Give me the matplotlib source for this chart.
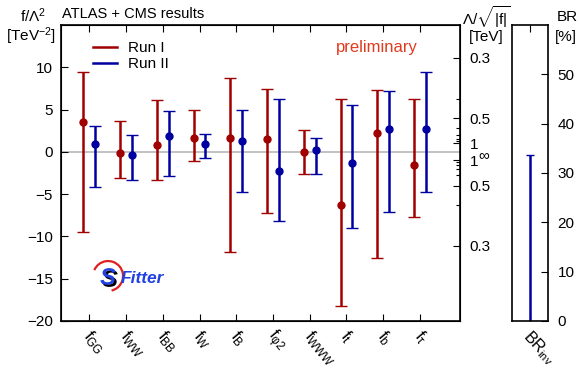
import numpy as np
import matplotlib
matplotlib.use("Agg")
import matplotlib.pyplot as plt
import matplotlib.patheffects as pe
from matplotlib.lines import Line2D
from matplotlib.patches import Arc

plt.rcParams['font.family'] = ['Liberation Sans', 'DejaVu Sans']
plt.rcParams['mathtext.fontset'] = 'custom'
plt.rcParams['mathtext.rm'] = 'Liberation Sans'
plt.rcParams['mathtext.it'] = 'Liberation Sans:italic'
plt.rcParams['mathtext.default'] = 'regular'

# --- data ------------------------------------------------------------------
labels = ['f$_{GG}$', 'f$_{WW}$', 'f$_{BB}$', 'f$_{W}$', 'f$_{B}$',
          'f$_{φ2}$', 'f$_{WWW}$', 'f$_{t}$', 'f$_{b}$', 'f$_{τ}$']
run1_c  = [3.55, -0.13, 0.86, 1.64, 1.64, 1.53, -0.05, -6.34, 2.20, -1.50]
run1_lo = [-9.53, -3.15, -3.30, -1.03, -11.8, -7.20, -2.60, -18.2, -12.5, -7.72]
run1_hi = [9.48, 3.65, 6.10, 5.00, 8.77, 7.47, 2.55, 6.20, 7.27, 6.20]
run2_c  = [0.98, -0.32, 1.92, 0.94, 1.25, -2.25, 0.23, -1.27, 2.75, 2.75]
run2_lo = [-4.10, -3.35, -2.84, -0.68, -4.80, -8.23, -2.57, -8.98, -7.17, -4.77]
run2_hi = [3.06, 2.00, 4.80, 2.16, 5.00, 6.20, 1.65, 5.50, 7.20, 9.43]
br_inv_hi = 33.7   # Run II upper limit on BR_inv [%]

lam_major = [0.3, 0.5, 1.0]
lam_minor = [0.4, 0.6, 0.7, 0.8, 0.9]

RED = '#a00000'
BLUE = '#0000a0'
FS = 11

W, H = 579, 368
fig = plt.figure(figsize=(W / 100, H / 100), dpi=100)

def px_axes(x0, y0, x1, y1):
    return fig.add_axes([x0 / W, 1 - y1 / H, (x1 - x0) / W, (y1 - y0) / H])

ax = px_axes(61, 25, 460, 321)
x = np.arange(1, len(labels) + 1)
off = 0.16

def draw(xpos, c, lo, hi, color):
    c = np.array(c); lo = np.array(lo); hi = np.array(hi)
    ax.errorbar(xpos, c, yerr=[c - lo, hi - c], fmt='o', color=color,
                ms=5, lw=1.8, capsize=4.5, capthick=1.0, zorder=3)

ax.axhline(0, color='#b8b8b8', lw=1.2, zorder=1)
draw(x - off, run1_c, run1_lo, run1_hi, RED)
draw(x + off, run2_c, run2_lo, run2_hi, BLUE)

ax.set_xlim(0.23, 11.09)
ax.set_ylim(-20, 15)
ax.set_yticks(np.arange(-20, 11, 5))
ax.set_xticks(x)
ax.set_xticklabels([])
ax.tick_params(axis='both', direction='in', labelsize=FS, width=0.8, length=5)
ax.tick_params(axis='y', pad=6)
ax.tick_params(axis='x', top=True)
for s in ax.spines.values():
    s.set_linewidth(1.2)
for xi, lab in zip(x, labels):
    ax.text(xi - 0.08, -21.4, lab, rotation=-50, rotation_mode='anchor',
            ha='left', va='center', fontsize=12)

# right-hand scale: Lambda / sqrt|f|
ax2 = ax.twinx()
ax2.set_ylim(-20, 15)
maj = [1 / l**2 for l in lam_major] + [-1 / l**2 for l in lam_major]
mnr = [1 / l**2 for l in lam_minor] + [-1 / l**2 for l in lam_minor]
ax2.set_yticks(maj)
ax2.set_yticklabels(['%g' % l for l in lam_major] * 2)
ax2.set_yticks(mnr, minor=True)
ax2.tick_params(axis='y', which='major', direction='in', length=5, labelsize=FS, pad=7, width=0.8)
ax2.tick_params(axis='y', which='minor', direction='in', length=3, width=0.8)
ax2.text(1.045, -0.35, '∞', transform=ax2.get_yaxis_transform(), fontsize=FS,
         ha='left', va='center')

# legend
handles = [Line2D([], [], color=RED, lw=1.8), Line2D([], [], color=BLUE, lw=1.8)]
ax.legend(handles, ['Run I', 'Run II'], loc='upper left', bbox_to_anchor=(0.065, 0.965),
          frameon=False, fontsize=FS, handlelength=1.6, handletextpad=0.7,
          labelspacing=0.1, borderaxespad=0)

ax.text(0.895, 0.925, 'preliminary', transform=ax.transAxes, color='#e03a1e',
        fontsize=12, ha='right', va='center')

# SFitter logo (approximate)
ax.add_patch(Arc((0.118, 0.152), 0.075, 0.101, theta1=-80, theta2=150,
                 transform=ax.transAxes, color='#e02020', lw=1.6))
ax.text(0.098, 0.145, 'S', transform=ax.transAxes, color='#2040e0', fontsize=17,
        fontweight='bold', style='italic', ha='left', va='center',
        path_effects=[pe.SimplePatchShadow(offset=(1.5, -1.5), shadow_rgbFace='black', alpha=1),
                      pe.Normal()])
ax.text(0.15, 0.142, 'Fitter', transform=ax.transAxes, color='#2040e0', fontsize=12.5,
        fontweight='bold', style='italic', ha='left', va='center')

# BR panel
axb = px_axes(512, 25, 548, 321)
axb.set_xlim(0, 1)
axb.set_ylim(0, 60)
axb.vlines(0.5, 0, br_inv_hi, color=BLUE, lw=1.8)
axb.hlines(br_inv_hi, 0.38, 0.62, color=BLUE, lw=1.0)
axb.set_xticks([0.5])
axb.set_xticklabels([])
axb.set_yticks(np.arange(0, 51, 10))
axb.yaxis.tick_right()
axb.tick_params(axis='y', direction='in', labelsize=FS, pad=7, length=5, width=0.8)
axb.tick_params(axis='x', direction='in', top=True, length=5, width=0.8)
for s in axb.spines.values():
    s.set_linewidth(1.2)
axb.text(0.38, -2.6, 'BR$_{inv}$', rotation=-47, rotation_mode='anchor',
         ha='left', va='center', fontsize=11.5)

# axis titles
fig.text(33 / W, 1 - 16 / H, 'f/Λ$^2$', ha='center', va='center', fontsize=FS)
fig.text(31 / W, 1 - 36 / H, '[TeV$^{-2}$]', ha='center', va='center', fontsize=FS)
fig.text(62 / W, 1 - 14 / H, 'ATLAS + CMS results', ha='left', va='center', fontsize=10.5)
fig.text(486 / W, 1 - 17 / H, 'Λ/$\\sqrt{|f|}$', ha='center', va='center', fontsize=FS)
fig.text(486 / W, 1 - 37 / H, '[TeV]', ha='center', va='center', fontsize=FS)
fig.text(567 / W, 1 - 17 / H, 'BR', ha='center', va='center', fontsize=FS)
fig.text(566 / W, 1 - 37 / H, '[%]', ha='center', va='center', fontsize=FS)

fig.savefig('out.png', dpi=100)
